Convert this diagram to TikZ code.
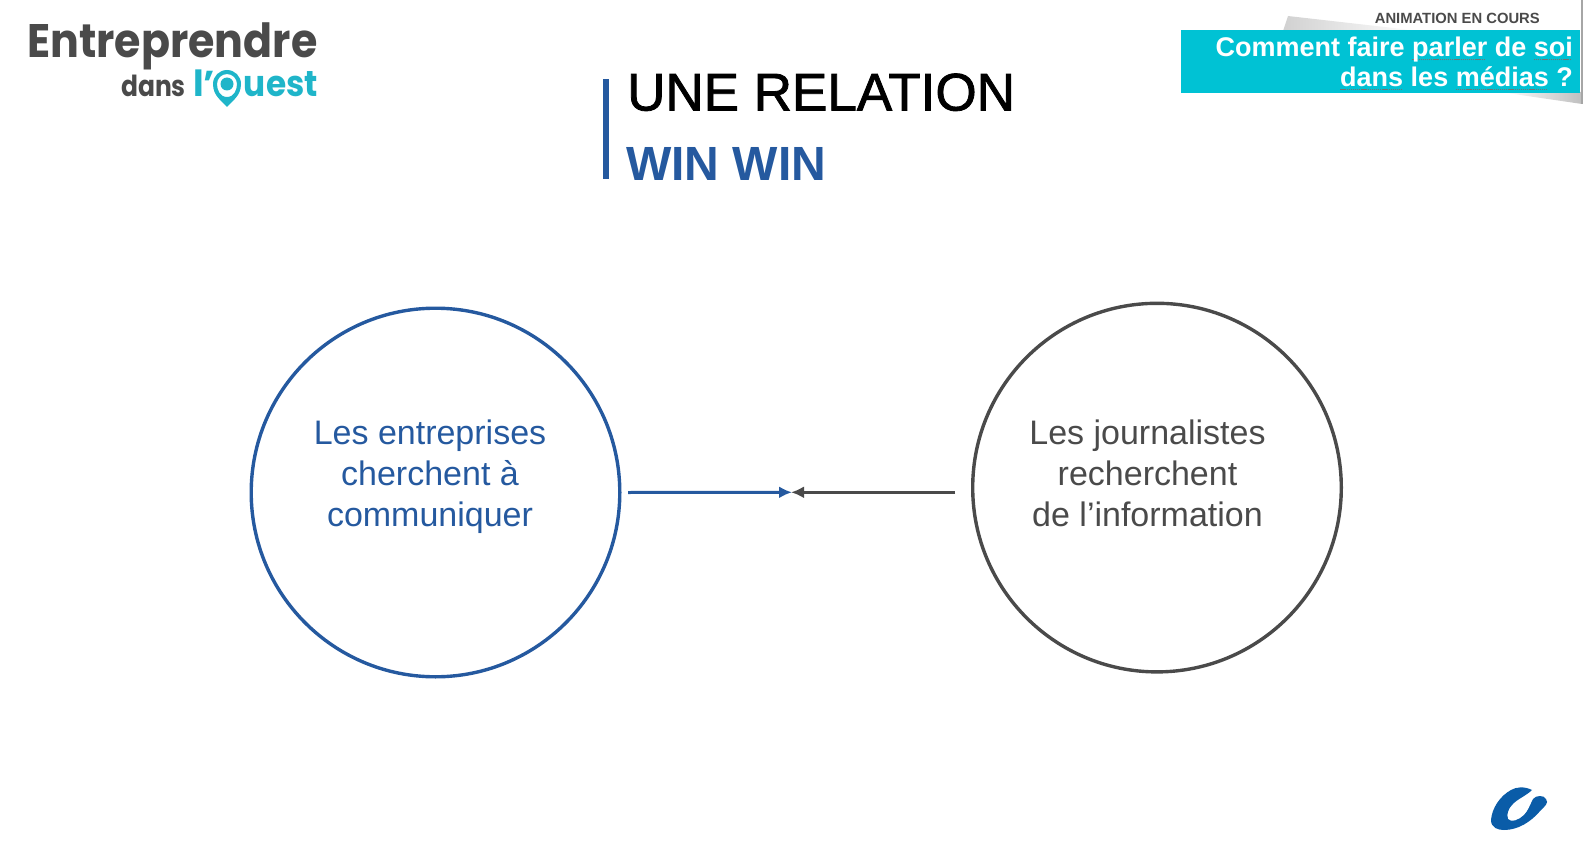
\documentclass[tikz,border=0pt]{standalone}
\usepackage{fontspec}
\setmainfont{Liberation Sans}
\newfontfamily\logofont{Poppins}
\newfontfamily\titrefont[FakeBold=1.5]{Liberation Sans}
\usetikzlibrary{arrows.meta}
\definecolor{bleu}{HTML}{25599F}
\definecolor{gris}{HTML}{4A4A4A}
\definecolor{turquoise}{HTML}{00C2D4}
\definecolor{logoturq}{HTML}{1FB5C9}
\definecolor{logobleu}{HTML}{0A5CA8}
\newcommand*{\rayon}{186}
\newsavebox{\squigbox}
\newcommand*{\squig}[1]{\sbox{\squigbox}{#1}\rlap{\color{black!55}\leaders\hbox{\rule[-3.5pt]{1.3pt}{1.3pt}\hskip 0.8pt}\hskip\wd\squigbox}\usebox{\squigbox}}
\tikzset{
    cercle/.style = {circle, draw, line width=3.4pt, minimum size=2*\rayon pt-3.4pt, inner sep=0pt},
    texte/.style  = {align=center, font=\fontsize{34}{41}\selectfont},
    fleche/.style = {line width=3pt, -{Latex[length=13pt,width=12pt]}},
}
\begin{document}
\begin{tikzpicture}[x=1pt, y=-1pt]
    \useasboundingbox (0,0) rectangle (1583,864);

    % logo
    \node [anchor=base west, inner sep=0pt, xscale=0.91, text=gris, font=\logofont\bfseries\fontsize{47}{47}\selectfont] (logoA) at (27,58) {Entreprendre};
    \node [anchor=base east, inner sep=0pt, xscale=0.86, text=gris, font=\logofont\bfseries\fontsize{29}{29}\selectfont] (logoB) at (186,97) {dans};
    \node [anchor=base west, inner sep=0pt, text=logoturq, font=\logofont\bfseries\fontsize{36}{36}\selectfont] (logoC) at (193,97) {l’};
    \node [anchor=base east, inner sep=0pt, xscale=0.91, text=logoturq, font=\logofont\bfseries\fontsize{36}{36}\selectfont] (logoD) at (318,97) {uest};
    \fill [logoturq, even odd rule] (227,107) .. controls (222,101) and (213,96) .. (213,84) arc (180:360:14) .. controls (241,96) and (232,101) .. (227,107) -- cycle
        (227,97) .. controls (234,97) and (237,90) .. (237,84) arc (0:-180:10) .. controls (217,90) and (220,97) .. (227,97) -- cycle;
    \fill [logoturq] (227,84) circle (6.5);

    % bandeau
    \shade [left color=black!18, right color=white] (1288,16) -- (1420,31) -- (1283,31) -- cycle;
    \shade [left color=white, right color=black!25] (1500,92) -- (1582,92) -- (1582,104) -- cycle;
    \fill [black!35] (1581,0) rectangle (1583,104);
    \fill [turquoise] (1181,30) rectangle (1580,93);
    \node [anchor=base east, inner sep=0pt, text=gris, font=\bfseries\fontsize{14.8}{15}\selectfont] (animation) at (1540,23.5) {ANIMATION EN COURS};
    \node [anchor=base east, inner sep=0pt, text=white, font=\bfseries\fontsize{27}{27}\selectfont] (bandeauA) at (1573,57) {Comment faire \squig{parler} de \squig{soi}};
    \node [anchor=base east, inner sep=0pt, text=white, font=\bfseries\fontsize{27}{27}\selectfont] (bandeauB) at (1573,86.5) {\squig{dans} les \squig{médias} ?};

    % titre
    \fill [bleu] (603,79) rectangle (609,179);
    \node [anchor=base west, inner sep=0pt, font=\titrefont\fontsize{53}{53}\selectfont] (titreA) at (627,110.5) {UNE RELATION};
    \node [anchor=base west, inner sep=0pt, text=bleu, font=\bfseries\fontsize{48}{48}\selectfont] (titreB) at (626,180.5) {WIN WIN};

    % cercles
    \node [cercle, draw=bleu] (entreprises)  at (435.5,492.5) {};
    \node [cercle, draw=gris] (journalistes) at (1157,487.6) {};
    \node [texte, text=bleu, anchor=base] (txtE) at (430,526) {Les entreprises\\cherchent à\\communiquer};
    \node [texte, text=gris, anchor=base] (txtJ) at (1147.5,526) {Les journalistes\\recherchent\\de l’information};

    % fleches
    \coordinate (pointE) at (792,492.3);
    \coordinate (pointJ) at (791,492.3);
    \draw [fleche, bleu] ([xshift=6.5pt]entreprises.east) -- (pointE);
    \draw [fleche, gris] ([shift={(-16,4.7)}]journalistes.west) -- (pointJ);

    % logo bas
    \fill [logobleu] (1532,790) .. controls (1524,786) and (1516,787) .. (1511,790) .. controls (1500,796) and (1492,808) .. (1491,820)
        .. controls (1491,828) and (1498,830) .. (1504,830) .. controls (1518,830) and (1531,822) .. (1541,810)
        .. controls (1545,806) and (1549,803) .. (1546,799) .. controls (1544,795) and (1536,795) .. (1533,799)
        .. controls (1530,805) and (1528,811) .. (1524,815) .. controls (1519,820) and (1511,823) .. (1508,819)
        .. controls (1506,814) and (1509,808) .. (1512,805) .. controls (1517,799) and (1526,796) .. (1532,790) -- cycle;
\end{tikzpicture}
\end{document}
